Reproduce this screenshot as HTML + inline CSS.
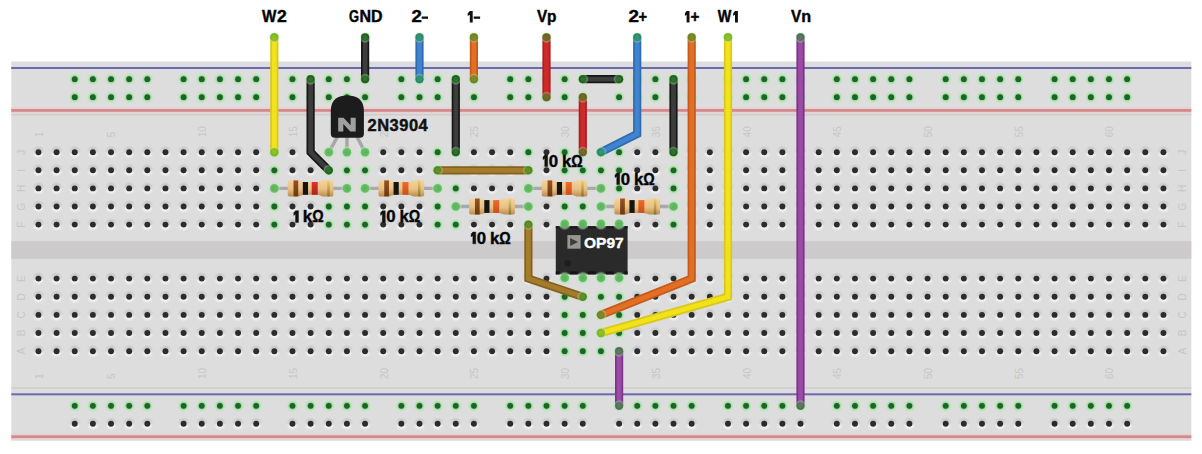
<!DOCTYPE html>
<html><head><meta charset="utf-8"><style>
html,body{margin:0;padding:0;background:#fff;}
svg{display:block;}
</style></head><body>
<svg width="1202" height="454" viewBox="0 0 1202 454">
<defs>
<radialGradient id="halo">
<stop offset="0" stop-color="#ffffff" stop-opacity="1"/>
<stop offset="0.55" stop-color="#f4f4f4" stop-opacity="0.9"/>
<stop offset="1" stop-color="#f4f4f4" stop-opacity="0"/>
</radialGradient>
<linearGradient id="lg" x1="0" y1="0" x2="0" y2="1">
<stop offset="0.1" stop-color="#b9b9b9"/>
<stop offset="0.45" stop-color="#d0d0d0"/>
<stop offset="0.7" stop-color="#fafafa"/>
<stop offset="1" stop-color="#ffffff"/>
</linearGradient>
<radialGradient id="hmg">
<stop offset="0.4" stop-color="#fff" stop-opacity="1"/>
<stop offset="1" stop-color="#fff" stop-opacity="0"/>
</radialGradient>
<mask id="hm" maskContentUnits="userSpaceOnUse" x="-7" y="-7" width="14" height="14" maskUnits="userSpaceOnUse"><circle r="6.6" fill="url(#hmg)"/></mask>
<radialGradient id="shad">
<stop offset="0.5" stop-color="#a8a8a8" stop-opacity="0.8"/>
<stop offset="1" stop-color="#b0b0b0" stop-opacity="0"/>
</radialGradient>
<radialGradient id="whalo">
<stop offset="0.55" stop-color="#b8e4b0" stop-opacity="0"/>
<stop offset="0.72" stop-color="#b8e4b0" stop-opacity="0.45"/>
<stop offset="1" stop-color="#c8eac8" stop-opacity="0"/>
</radialGradient>
<radialGradient id="ghalo">
<stop offset="0" stop-color="#4fa84f" stop-opacity="1"/>
<stop offset="0.4" stop-color="#8ccc8c" stop-opacity="0.95"/>
<stop offset="0.7" stop-color="#bfe6bf" stop-opacity="0.7"/>
<stop offset="1" stop-color="#c8eac8" stop-opacity="0"/>
</radialGradient>
<g id="h"><circle r="6.6" fill="url(#lg)" mask="url(#hm)"/><circle r="2.95" fill="#2c2c2c"/></g>
<g id="g"><circle r="7" fill="url(#ghalo)"/><circle r="2.9" fill="#1b6526"/></g>
<g id="pe"><circle r="6.5" fill="url(#ghalo)" opacity="0.8"/><circle r="4.3" fill="#5cb85c" opacity="0.8"/></g>
<linearGradient id="rb" x1="0" y1="0" x2="0" y2="1">
<stop offset="0" stop-color="#f4d39c"/>
<stop offset="0.55" stop-color="#e9c082"/>
<stop offset="1" stop-color="#b98c52"/>
</linearGradient>
<linearGradient id="bb" x1="0" y1="0" x2="0" y2="1"><stop offset="0" stop-color="#9a5420"/><stop offset="1" stop-color="#6a3812"/></linearGradient>
<linearGradient id="br" x1="0" y1="0" x2="0" y2="1"><stop offset="0" stop-color="#e0342c"/><stop offset="1" stop-color="#a8241e"/></linearGradient>
<linearGradient id="bo" x1="0" y1="0" x2="0" y2="1"><stop offset="0" stop-color="#f06a2c"/><stop offset="1" stop-color="#c8501e"/></linearGradient>
<linearGradient id="bg" x1="0" y1="0" x2="0" y2="1"><stop offset="0" stop-color="#ead27a"/><stop offset="1" stop-color="#8a7228"/></linearGradient>
<g id="resbody"><path d="M-22.9,-6.5 Q-22.9,-8.1 -20.5,-8.1 L-12,-8.1 Q-9,-6.4 -6,-6.4 L6,-6.4 Q9,-6.4 12,-8.1 L20.5,-8.1 Q22.8,-8.1 22.8,-6.5 L22.8,6.5 Q22.8,8.1 20.5,8.1 L12,8.1 Q9,6.4 6,6.4 L-6,6.4 Q-9,6.4 -12,8.1 L-20.5,8.1 Q-22.9,8.1 -22.9,6.5 Z" fill="url(#rb)"/></g>
<g id="resR"><use href="#resbody"/><rect x="-17.1" y="-8" width="4.7" height="16" fill="url(#bb)"/><rect x="-7.8" y="-6.4" width="5.2" height="12.8" fill="#141414"/><rect x="1.1" y="-6.4" width="6.0" height="12.8" fill="url(#br)"/><rect x="16.6" y="-8" width="2.5" height="16" fill="url(#bg)"/></g>
<g id="resO"><use href="#resbody"/><rect x="-17.1" y="-8" width="4.7" height="16" fill="url(#bb)"/><rect x="-7.8" y="-6.4" width="5.2" height="12.8" fill="#141414"/><rect x="1.1" y="-6.4" width="6.0" height="12.8" fill="url(#bo)"/><rect x="16.6" y="-8" width="2.5" height="16" fill="url(#bg)"/></g>
</defs>
<rect x="0" y="0" width="1202" height="454" fill="#ffffff"/>
<rect x="11.3" y="61.5" width="1180.0" height="379.3" fill="#dddddd"/>
<rect x="11.3" y="65.0" width="1180.0" height="6" fill="#dcdce6"/>
<rect x="11.3" y="67.0" width="1180.0" height="2" fill="#6c6ca4"/>
<rect x="11.3" y="107.3" width="1180.0" height="6" fill="#e6d2d2"/>
<rect x="11.3" y="109" width="1180.0" height="2.8" fill="#d48a8c"/>
<rect x="11.3" y="114.0" width="1180.0" height="1.4" fill="#cdcdcd"/>
<rect x="11.3" y="241.1" width="1180.0" height="17.8" fill="#cdcacb"/>
<rect x="11.3" y="387.4" width="1180.0" height="1.4" fill="#cbcbcb"/>
<rect x="11.3" y="391.3" width="1180.0" height="6" fill="#dcdce6"/>
<rect x="11.3" y="393.3" width="1180.0" height="2" fill="#6c6ca4"/>
<rect x="11.3" y="433.6" width="1180.0" height="6" fill="#e6d2d2"/>
<rect x="11.3" y="435.3" width="1180.0" height="2.8" fill="#d48a8c"/>
<g font-family="Liberation Sans, sans-serif" font-size="10" fill="#c6c6c6"><text transform="translate(42.9,137.3) rotate(-90)" text-anchor="start">1</text><text transform="translate(42.9,379.0) rotate(-90)" text-anchor="start">1</text><text transform="translate(115.4,137.3) rotate(-90)" text-anchor="start">5</text><text transform="translate(115.4,379.0) rotate(-90)" text-anchor="start">5</text><text transform="translate(206.2,137.3) rotate(-90)" text-anchor="start">10</text><text transform="translate(206.2,379.0) rotate(-90)" text-anchor="start">10</text><text transform="translate(296.9,137.3) rotate(-90)" text-anchor="start">15</text><text transform="translate(296.9,379.0) rotate(-90)" text-anchor="start">15</text><text transform="translate(387.6,137.3) rotate(-90)" text-anchor="start">20</text><text transform="translate(387.6,379.0) rotate(-90)" text-anchor="start">20</text><text transform="translate(478.3,137.3) rotate(-90)" text-anchor="start">25</text><text transform="translate(478.3,379.0) rotate(-90)" text-anchor="start">25</text><text transform="translate(569.1,137.3) rotate(-90)" text-anchor="start">30</text><text transform="translate(569.1,379.0) rotate(-90)" text-anchor="start">30</text><text transform="translate(659.8,137.3) rotate(-90)" text-anchor="start">35</text><text transform="translate(659.8,379.0) rotate(-90)" text-anchor="start">35</text><text transform="translate(750.5,137.3) rotate(-90)" text-anchor="start">40</text><text transform="translate(750.5,379.0) rotate(-90)" text-anchor="start">40</text><text transform="translate(841.2,137.3) rotate(-90)" text-anchor="start">45</text><text transform="translate(841.2,379.0) rotate(-90)" text-anchor="start">45</text><text transform="translate(932.0,137.3) rotate(-90)" text-anchor="start">50</text><text transform="translate(932.0,379.0) rotate(-90)" text-anchor="start">50</text><text transform="translate(1022.7,137.3) rotate(-90)" text-anchor="start">55</text><text transform="translate(1022.7,379.0) rotate(-90)" text-anchor="start">55</text><text transform="translate(1113.4,137.3) rotate(-90)" text-anchor="start">60</text><text transform="translate(1113.4,379.0) rotate(-90)" text-anchor="start">60</text><text transform="translate(25.1,152.2) rotate(-90)" text-anchor="middle">J</text><text transform="translate(1185.6,152.2) rotate(-90)" text-anchor="middle">J</text><text transform="translate(25.1,170.3) rotate(-90)" text-anchor="middle">I</text><text transform="translate(1185.6,170.3) rotate(-90)" text-anchor="middle">I</text><text transform="translate(25.1,188.4) rotate(-90)" text-anchor="middle">H</text><text transform="translate(1185.6,188.4) rotate(-90)" text-anchor="middle">H</text><text transform="translate(25.1,206.5) rotate(-90)" text-anchor="middle">G</text><text transform="translate(1185.6,206.5) rotate(-90)" text-anchor="middle">G</text><text transform="translate(25.1,224.6) rotate(-90)" text-anchor="middle">F</text><text transform="translate(1185.6,224.6) rotate(-90)" text-anchor="middle">F</text><text transform="translate(25.1,278.6) rotate(-90)" text-anchor="middle">E</text><text transform="translate(1185.6,278.6) rotate(-90)" text-anchor="middle">E</text><text transform="translate(25.1,296.8) rotate(-90)" text-anchor="middle">D</text><text transform="translate(1185.6,296.8) rotate(-90)" text-anchor="middle">D</text><text transform="translate(25.1,314.9) rotate(-90)" text-anchor="middle">C</text><text transform="translate(1185.6,314.9) rotate(-90)" text-anchor="middle">C</text><text transform="translate(25.1,333.0) rotate(-90)" text-anchor="middle">B</text><text transform="translate(1185.6,333.0) rotate(-90)" text-anchor="middle">B</text><text transform="translate(25.1,351.2) rotate(-90)" text-anchor="middle">A</text><text transform="translate(1185.6,351.2) rotate(-90)" text-anchor="middle">A</text></g>
<use href="#h" x="38.45" y="152.20"/>
<use href="#h" x="38.45" y="170.30"/>
<use href="#h" x="38.45" y="188.40"/>
<use href="#h" x="38.45" y="206.50"/>
<use href="#h" x="38.45" y="224.60"/>
<use href="#h" x="38.45" y="278.60"/>
<use href="#h" x="38.45" y="296.80"/>
<use href="#h" x="38.45" y="314.90"/>
<use href="#h" x="38.45" y="333.00"/>
<use href="#h" x="38.45" y="351.20"/>
<use href="#h" x="56.59" y="152.20"/>
<use href="#h" x="56.59" y="170.30"/>
<use href="#h" x="56.59" y="188.40"/>
<use href="#h" x="56.59" y="206.50"/>
<use href="#h" x="56.59" y="224.60"/>
<use href="#h" x="56.59" y="278.60"/>
<use href="#h" x="56.59" y="296.80"/>
<use href="#h" x="56.59" y="314.90"/>
<use href="#h" x="56.59" y="333.00"/>
<use href="#h" x="56.59" y="351.20"/>
<use href="#h" x="74.74" y="152.20"/>
<use href="#h" x="74.74" y="170.30"/>
<use href="#h" x="74.74" y="188.40"/>
<use href="#h" x="74.74" y="206.50"/>
<use href="#h" x="74.74" y="224.60"/>
<use href="#h" x="74.74" y="278.60"/>
<use href="#h" x="74.74" y="296.80"/>
<use href="#h" x="74.74" y="314.90"/>
<use href="#h" x="74.74" y="333.00"/>
<use href="#h" x="74.74" y="351.20"/>
<use href="#h" x="92.89" y="152.20"/>
<use href="#h" x="92.89" y="170.30"/>
<use href="#h" x="92.89" y="188.40"/>
<use href="#h" x="92.89" y="206.50"/>
<use href="#h" x="92.89" y="224.60"/>
<use href="#h" x="92.89" y="278.60"/>
<use href="#h" x="92.89" y="296.80"/>
<use href="#h" x="92.89" y="314.90"/>
<use href="#h" x="92.89" y="333.00"/>
<use href="#h" x="92.89" y="351.20"/>
<use href="#h" x="111.03" y="152.20"/>
<use href="#h" x="111.03" y="170.30"/>
<use href="#h" x="111.03" y="188.40"/>
<use href="#h" x="111.03" y="206.50"/>
<use href="#h" x="111.03" y="224.60"/>
<use href="#h" x="111.03" y="278.60"/>
<use href="#h" x="111.03" y="296.80"/>
<use href="#h" x="111.03" y="314.90"/>
<use href="#h" x="111.03" y="333.00"/>
<use href="#h" x="111.03" y="351.20"/>
<use href="#h" x="129.18" y="152.20"/>
<use href="#h" x="129.18" y="170.30"/>
<use href="#h" x="129.18" y="188.40"/>
<use href="#h" x="129.18" y="206.50"/>
<use href="#h" x="129.18" y="224.60"/>
<use href="#h" x="129.18" y="278.60"/>
<use href="#h" x="129.18" y="296.80"/>
<use href="#h" x="129.18" y="314.90"/>
<use href="#h" x="129.18" y="333.00"/>
<use href="#h" x="129.18" y="351.20"/>
<use href="#h" x="147.32" y="152.20"/>
<use href="#h" x="147.32" y="170.30"/>
<use href="#h" x="147.32" y="188.40"/>
<use href="#h" x="147.32" y="206.50"/>
<use href="#h" x="147.32" y="224.60"/>
<use href="#h" x="147.32" y="278.60"/>
<use href="#h" x="147.32" y="296.80"/>
<use href="#h" x="147.32" y="314.90"/>
<use href="#h" x="147.32" y="333.00"/>
<use href="#h" x="147.32" y="351.20"/>
<use href="#h" x="165.47" y="152.20"/>
<use href="#h" x="165.47" y="170.30"/>
<use href="#h" x="165.47" y="188.40"/>
<use href="#h" x="165.47" y="206.50"/>
<use href="#h" x="165.47" y="224.60"/>
<use href="#h" x="165.47" y="278.60"/>
<use href="#h" x="165.47" y="296.80"/>
<use href="#h" x="165.47" y="314.90"/>
<use href="#h" x="165.47" y="333.00"/>
<use href="#h" x="165.47" y="351.20"/>
<use href="#h" x="183.61" y="152.20"/>
<use href="#h" x="183.61" y="170.30"/>
<use href="#h" x="183.61" y="188.40"/>
<use href="#h" x="183.61" y="206.50"/>
<use href="#h" x="183.61" y="224.60"/>
<use href="#h" x="183.61" y="278.60"/>
<use href="#h" x="183.61" y="296.80"/>
<use href="#h" x="183.61" y="314.90"/>
<use href="#h" x="183.61" y="333.00"/>
<use href="#h" x="183.61" y="351.20"/>
<use href="#h" x="201.75" y="152.20"/>
<use href="#h" x="201.75" y="170.30"/>
<use href="#h" x="201.75" y="188.40"/>
<use href="#h" x="201.75" y="206.50"/>
<use href="#h" x="201.75" y="224.60"/>
<use href="#h" x="201.75" y="278.60"/>
<use href="#h" x="201.75" y="296.80"/>
<use href="#h" x="201.75" y="314.90"/>
<use href="#h" x="201.75" y="333.00"/>
<use href="#h" x="201.75" y="351.20"/>
<use href="#h" x="219.90" y="152.20"/>
<use href="#h" x="219.90" y="170.30"/>
<use href="#h" x="219.90" y="188.40"/>
<use href="#h" x="219.90" y="206.50"/>
<use href="#h" x="219.90" y="224.60"/>
<use href="#h" x="219.90" y="278.60"/>
<use href="#h" x="219.90" y="296.80"/>
<use href="#h" x="219.90" y="314.90"/>
<use href="#h" x="219.90" y="333.00"/>
<use href="#h" x="219.90" y="351.20"/>
<use href="#h" x="238.05" y="152.20"/>
<use href="#h" x="238.05" y="170.30"/>
<use href="#h" x="238.05" y="188.40"/>
<use href="#h" x="238.05" y="206.50"/>
<use href="#h" x="238.05" y="224.60"/>
<use href="#h" x="238.05" y="278.60"/>
<use href="#h" x="238.05" y="296.80"/>
<use href="#h" x="238.05" y="314.90"/>
<use href="#h" x="238.05" y="333.00"/>
<use href="#h" x="238.05" y="351.20"/>
<use href="#h" x="256.19" y="152.20"/>
<use href="#h" x="256.19" y="170.30"/>
<use href="#h" x="256.19" y="188.40"/>
<use href="#h" x="256.19" y="206.50"/>
<use href="#h" x="256.19" y="224.60"/>
<use href="#h" x="256.19" y="278.60"/>
<use href="#h" x="256.19" y="296.80"/>
<use href="#h" x="256.19" y="314.90"/>
<use href="#h" x="256.19" y="333.00"/>
<use href="#h" x="256.19" y="351.20"/>
<use href="#g" x="274.33" y="152.20"/>
<use href="#g" x="274.33" y="170.30"/>
<use href="#g" x="274.33" y="188.40"/>
<use href="#g" x="274.33" y="206.50"/>
<use href="#g" x="274.33" y="224.60"/>
<use href="#h" x="274.33" y="278.60"/>
<use href="#h" x="274.33" y="296.80"/>
<use href="#h" x="274.33" y="314.90"/>
<use href="#h" x="274.33" y="333.00"/>
<use href="#h" x="274.33" y="351.20"/>
<use href="#h" x="292.48" y="152.20"/>
<use href="#h" x="292.48" y="170.30"/>
<use href="#h" x="292.48" y="188.40"/>
<use href="#h" x="292.48" y="206.50"/>
<use href="#h" x="292.48" y="224.60"/>
<use href="#h" x="292.48" y="278.60"/>
<use href="#h" x="292.48" y="296.80"/>
<use href="#h" x="292.48" y="314.90"/>
<use href="#h" x="292.48" y="333.00"/>
<use href="#h" x="292.48" y="351.20"/>
<use href="#h" x="310.62" y="152.20"/>
<use href="#h" x="310.62" y="170.30"/>
<use href="#h" x="310.62" y="188.40"/>
<use href="#h" x="310.62" y="206.50"/>
<use href="#h" x="310.62" y="224.60"/>
<use href="#h" x="310.62" y="278.60"/>
<use href="#h" x="310.62" y="296.80"/>
<use href="#h" x="310.62" y="314.90"/>
<use href="#h" x="310.62" y="333.00"/>
<use href="#h" x="310.62" y="351.20"/>
<use href="#g" x="328.77" y="152.20"/>
<use href="#g" x="328.77" y="170.30"/>
<use href="#g" x="328.77" y="188.40"/>
<use href="#g" x="328.77" y="206.50"/>
<use href="#g" x="328.77" y="224.60"/>
<use href="#h" x="328.77" y="278.60"/>
<use href="#h" x="328.77" y="296.80"/>
<use href="#h" x="328.77" y="314.90"/>
<use href="#h" x="328.77" y="333.00"/>
<use href="#h" x="328.77" y="351.20"/>
<use href="#g" x="346.91" y="152.20"/>
<use href="#g" x="346.91" y="170.30"/>
<use href="#g" x="346.91" y="188.40"/>
<use href="#g" x="346.91" y="206.50"/>
<use href="#g" x="346.91" y="224.60"/>
<use href="#h" x="346.91" y="278.60"/>
<use href="#h" x="346.91" y="296.80"/>
<use href="#h" x="346.91" y="314.90"/>
<use href="#h" x="346.91" y="333.00"/>
<use href="#h" x="346.91" y="351.20"/>
<use href="#g" x="365.06" y="152.20"/>
<use href="#g" x="365.06" y="170.30"/>
<use href="#g" x="365.06" y="188.40"/>
<use href="#g" x="365.06" y="206.50"/>
<use href="#g" x="365.06" y="224.60"/>
<use href="#h" x="365.06" y="278.60"/>
<use href="#h" x="365.06" y="296.80"/>
<use href="#h" x="365.06" y="314.90"/>
<use href="#h" x="365.06" y="333.00"/>
<use href="#h" x="365.06" y="351.20"/>
<use href="#h" x="383.20" y="152.20"/>
<use href="#h" x="383.20" y="170.30"/>
<use href="#h" x="383.20" y="188.40"/>
<use href="#h" x="383.20" y="206.50"/>
<use href="#h" x="383.20" y="224.60"/>
<use href="#h" x="383.20" y="278.60"/>
<use href="#h" x="383.20" y="296.80"/>
<use href="#h" x="383.20" y="314.90"/>
<use href="#h" x="383.20" y="333.00"/>
<use href="#h" x="383.20" y="351.20"/>
<use href="#h" x="401.35" y="152.20"/>
<use href="#h" x="401.35" y="170.30"/>
<use href="#h" x="401.35" y="188.40"/>
<use href="#h" x="401.35" y="206.50"/>
<use href="#h" x="401.35" y="224.60"/>
<use href="#h" x="401.35" y="278.60"/>
<use href="#h" x="401.35" y="296.80"/>
<use href="#h" x="401.35" y="314.90"/>
<use href="#h" x="401.35" y="333.00"/>
<use href="#h" x="401.35" y="351.20"/>
<use href="#h" x="419.50" y="152.20"/>
<use href="#h" x="419.50" y="170.30"/>
<use href="#h" x="419.50" y="188.40"/>
<use href="#h" x="419.50" y="206.50"/>
<use href="#h" x="419.50" y="224.60"/>
<use href="#h" x="419.50" y="278.60"/>
<use href="#h" x="419.50" y="296.80"/>
<use href="#h" x="419.50" y="314.90"/>
<use href="#h" x="419.50" y="333.00"/>
<use href="#h" x="419.50" y="351.20"/>
<use href="#g" x="437.64" y="152.20"/>
<use href="#g" x="437.64" y="170.30"/>
<use href="#g" x="437.64" y="188.40"/>
<use href="#g" x="437.64" y="206.50"/>
<use href="#g" x="437.64" y="224.60"/>
<use href="#h" x="437.64" y="278.60"/>
<use href="#h" x="437.64" y="296.80"/>
<use href="#h" x="437.64" y="314.90"/>
<use href="#h" x="437.64" y="333.00"/>
<use href="#h" x="437.64" y="351.20"/>
<use href="#g" x="455.78" y="152.20"/>
<use href="#g" x="455.78" y="170.30"/>
<use href="#g" x="455.78" y="188.40"/>
<use href="#g" x="455.78" y="206.50"/>
<use href="#g" x="455.78" y="224.60"/>
<use href="#h" x="455.78" y="278.60"/>
<use href="#h" x="455.78" y="296.80"/>
<use href="#h" x="455.78" y="314.90"/>
<use href="#h" x="455.78" y="333.00"/>
<use href="#h" x="455.78" y="351.20"/>
<use href="#h" x="473.93" y="152.20"/>
<use href="#h" x="473.93" y="170.30"/>
<use href="#h" x="473.93" y="188.40"/>
<use href="#h" x="473.93" y="206.50"/>
<use href="#h" x="473.93" y="224.60"/>
<use href="#h" x="473.93" y="278.60"/>
<use href="#h" x="473.93" y="296.80"/>
<use href="#h" x="473.93" y="314.90"/>
<use href="#h" x="473.93" y="333.00"/>
<use href="#h" x="473.93" y="351.20"/>
<use href="#h" x="492.07" y="152.20"/>
<use href="#h" x="492.07" y="170.30"/>
<use href="#h" x="492.07" y="188.40"/>
<use href="#h" x="492.07" y="206.50"/>
<use href="#h" x="492.07" y="224.60"/>
<use href="#h" x="492.07" y="278.60"/>
<use href="#h" x="492.07" y="296.80"/>
<use href="#h" x="492.07" y="314.90"/>
<use href="#h" x="492.07" y="333.00"/>
<use href="#h" x="492.07" y="351.20"/>
<use href="#h" x="510.22" y="152.20"/>
<use href="#h" x="510.22" y="170.30"/>
<use href="#h" x="510.22" y="188.40"/>
<use href="#h" x="510.22" y="206.50"/>
<use href="#h" x="510.22" y="224.60"/>
<use href="#h" x="510.22" y="278.60"/>
<use href="#h" x="510.22" y="296.80"/>
<use href="#h" x="510.22" y="314.90"/>
<use href="#h" x="510.22" y="333.00"/>
<use href="#h" x="510.22" y="351.20"/>
<use href="#g" x="528.37" y="152.20"/>
<use href="#g" x="528.37" y="170.30"/>
<use href="#g" x="528.37" y="188.40"/>
<use href="#g" x="528.37" y="206.50"/>
<use href="#g" x="528.37" y="224.60"/>
<use href="#h" x="528.37" y="278.60"/>
<use href="#h" x="528.37" y="296.80"/>
<use href="#h" x="528.37" y="314.90"/>
<use href="#h" x="528.37" y="333.00"/>
<use href="#h" x="528.37" y="351.20"/>
<use href="#h" x="546.51" y="152.20"/>
<use href="#h" x="546.51" y="170.30"/>
<use href="#h" x="546.51" y="188.40"/>
<use href="#h" x="546.51" y="206.50"/>
<use href="#h" x="546.51" y="224.60"/>
<use href="#h" x="546.51" y="278.60"/>
<use href="#h" x="546.51" y="296.80"/>
<use href="#h" x="546.51" y="314.90"/>
<use href="#h" x="546.51" y="333.00"/>
<use href="#h" x="546.51" y="351.20"/>
<use href="#g" x="564.66" y="152.20"/>
<use href="#g" x="564.66" y="170.30"/>
<use href="#g" x="564.66" y="188.40"/>
<use href="#g" x="564.66" y="206.50"/>
<use href="#g" x="564.66" y="224.60"/>
<use href="#g" x="564.66" y="278.60"/>
<use href="#g" x="564.66" y="296.80"/>
<use href="#g" x="564.66" y="314.90"/>
<use href="#g" x="564.66" y="333.00"/>
<use href="#g" x="564.66" y="351.20"/>
<use href="#g" x="582.80" y="152.20"/>
<use href="#g" x="582.80" y="170.30"/>
<use href="#g" x="582.80" y="188.40"/>
<use href="#g" x="582.80" y="206.50"/>
<use href="#g" x="582.80" y="224.60"/>
<use href="#g" x="582.80" y="278.60"/>
<use href="#g" x="582.80" y="296.80"/>
<use href="#g" x="582.80" y="314.90"/>
<use href="#g" x="582.80" y="333.00"/>
<use href="#g" x="582.80" y="351.20"/>
<use href="#g" x="600.95" y="152.20"/>
<use href="#g" x="600.95" y="170.30"/>
<use href="#g" x="600.95" y="188.40"/>
<use href="#g" x="600.95" y="206.50"/>
<use href="#g" x="600.95" y="224.60"/>
<use href="#g" x="600.95" y="278.60"/>
<use href="#g" x="600.95" y="296.80"/>
<use href="#g" x="600.95" y="314.90"/>
<use href="#g" x="600.95" y="333.00"/>
<use href="#g" x="600.95" y="351.20"/>
<use href="#g" x="619.09" y="152.20"/>
<use href="#g" x="619.09" y="170.30"/>
<use href="#g" x="619.09" y="188.40"/>
<use href="#g" x="619.09" y="206.50"/>
<use href="#g" x="619.09" y="224.60"/>
<use href="#g" x="619.09" y="278.60"/>
<use href="#g" x="619.09" y="296.80"/>
<use href="#g" x="619.09" y="314.90"/>
<use href="#g" x="619.09" y="333.00"/>
<use href="#g" x="619.09" y="351.20"/>
<use href="#h" x="637.24" y="152.20"/>
<use href="#h" x="637.24" y="170.30"/>
<use href="#h" x="637.24" y="188.40"/>
<use href="#h" x="637.24" y="206.50"/>
<use href="#h" x="637.24" y="224.60"/>
<use href="#h" x="637.24" y="278.60"/>
<use href="#h" x="637.24" y="296.80"/>
<use href="#h" x="637.24" y="314.90"/>
<use href="#h" x="637.24" y="333.00"/>
<use href="#h" x="637.24" y="351.20"/>
<use href="#h" x="655.38" y="152.20"/>
<use href="#h" x="655.38" y="170.30"/>
<use href="#h" x="655.38" y="188.40"/>
<use href="#h" x="655.38" y="206.50"/>
<use href="#h" x="655.38" y="224.60"/>
<use href="#h" x="655.38" y="278.60"/>
<use href="#h" x="655.38" y="296.80"/>
<use href="#h" x="655.38" y="314.90"/>
<use href="#h" x="655.38" y="333.00"/>
<use href="#h" x="655.38" y="351.20"/>
<use href="#g" x="673.52" y="152.20"/>
<use href="#g" x="673.52" y="170.30"/>
<use href="#g" x="673.52" y="188.40"/>
<use href="#g" x="673.52" y="206.50"/>
<use href="#g" x="673.52" y="224.60"/>
<use href="#h" x="673.52" y="278.60"/>
<use href="#h" x="673.52" y="296.80"/>
<use href="#h" x="673.52" y="314.90"/>
<use href="#h" x="673.52" y="333.00"/>
<use href="#h" x="673.52" y="351.20"/>
<use href="#h" x="691.67" y="152.20"/>
<use href="#h" x="691.67" y="170.30"/>
<use href="#h" x="691.67" y="188.40"/>
<use href="#h" x="691.67" y="206.50"/>
<use href="#h" x="691.67" y="224.60"/>
<use href="#h" x="691.67" y="278.60"/>
<use href="#h" x="691.67" y="296.80"/>
<use href="#h" x="691.67" y="314.90"/>
<use href="#h" x="691.67" y="333.00"/>
<use href="#h" x="691.67" y="351.20"/>
<use href="#h" x="709.82" y="152.20"/>
<use href="#h" x="709.82" y="170.30"/>
<use href="#h" x="709.82" y="188.40"/>
<use href="#h" x="709.82" y="206.50"/>
<use href="#h" x="709.82" y="224.60"/>
<use href="#h" x="709.82" y="278.60"/>
<use href="#h" x="709.82" y="296.80"/>
<use href="#h" x="709.82" y="314.90"/>
<use href="#h" x="709.82" y="333.00"/>
<use href="#h" x="709.82" y="351.20"/>
<use href="#h" x="727.96" y="152.20"/>
<use href="#h" x="727.96" y="170.30"/>
<use href="#h" x="727.96" y="188.40"/>
<use href="#h" x="727.96" y="206.50"/>
<use href="#h" x="727.96" y="224.60"/>
<use href="#h" x="727.96" y="278.60"/>
<use href="#h" x="727.96" y="296.80"/>
<use href="#h" x="727.96" y="314.90"/>
<use href="#h" x="727.96" y="333.00"/>
<use href="#h" x="727.96" y="351.20"/>
<use href="#h" x="746.11" y="152.20"/>
<use href="#h" x="746.11" y="170.30"/>
<use href="#h" x="746.11" y="188.40"/>
<use href="#h" x="746.11" y="206.50"/>
<use href="#h" x="746.11" y="224.60"/>
<use href="#h" x="746.11" y="278.60"/>
<use href="#h" x="746.11" y="296.80"/>
<use href="#h" x="746.11" y="314.90"/>
<use href="#h" x="746.11" y="333.00"/>
<use href="#h" x="746.11" y="351.20"/>
<use href="#h" x="764.25" y="152.20"/>
<use href="#h" x="764.25" y="170.30"/>
<use href="#h" x="764.25" y="188.40"/>
<use href="#h" x="764.25" y="206.50"/>
<use href="#h" x="764.25" y="224.60"/>
<use href="#h" x="764.25" y="278.60"/>
<use href="#h" x="764.25" y="296.80"/>
<use href="#h" x="764.25" y="314.90"/>
<use href="#h" x="764.25" y="333.00"/>
<use href="#h" x="764.25" y="351.20"/>
<use href="#h" x="782.39" y="152.20"/>
<use href="#h" x="782.39" y="170.30"/>
<use href="#h" x="782.39" y="188.40"/>
<use href="#h" x="782.39" y="206.50"/>
<use href="#h" x="782.39" y="224.60"/>
<use href="#h" x="782.39" y="278.60"/>
<use href="#h" x="782.39" y="296.80"/>
<use href="#h" x="782.39" y="314.90"/>
<use href="#h" x="782.39" y="333.00"/>
<use href="#h" x="782.39" y="351.20"/>
<use href="#h" x="800.54" y="152.20"/>
<use href="#h" x="800.54" y="170.30"/>
<use href="#h" x="800.54" y="188.40"/>
<use href="#h" x="800.54" y="206.50"/>
<use href="#h" x="800.54" y="224.60"/>
<use href="#h" x="800.54" y="278.60"/>
<use href="#h" x="800.54" y="296.80"/>
<use href="#h" x="800.54" y="314.90"/>
<use href="#h" x="800.54" y="333.00"/>
<use href="#h" x="800.54" y="351.20"/>
<use href="#h" x="818.69" y="152.20"/>
<use href="#h" x="818.69" y="170.30"/>
<use href="#h" x="818.69" y="188.40"/>
<use href="#h" x="818.69" y="206.50"/>
<use href="#h" x="818.69" y="224.60"/>
<use href="#h" x="818.69" y="278.60"/>
<use href="#h" x="818.69" y="296.80"/>
<use href="#h" x="818.69" y="314.90"/>
<use href="#h" x="818.69" y="333.00"/>
<use href="#h" x="818.69" y="351.20"/>
<use href="#h" x="836.83" y="152.20"/>
<use href="#h" x="836.83" y="170.30"/>
<use href="#h" x="836.83" y="188.40"/>
<use href="#h" x="836.83" y="206.50"/>
<use href="#h" x="836.83" y="224.60"/>
<use href="#h" x="836.83" y="278.60"/>
<use href="#h" x="836.83" y="296.80"/>
<use href="#h" x="836.83" y="314.90"/>
<use href="#h" x="836.83" y="333.00"/>
<use href="#h" x="836.83" y="351.20"/>
<use href="#h" x="854.98" y="152.20"/>
<use href="#h" x="854.98" y="170.30"/>
<use href="#h" x="854.98" y="188.40"/>
<use href="#h" x="854.98" y="206.50"/>
<use href="#h" x="854.98" y="224.60"/>
<use href="#h" x="854.98" y="278.60"/>
<use href="#h" x="854.98" y="296.80"/>
<use href="#h" x="854.98" y="314.90"/>
<use href="#h" x="854.98" y="333.00"/>
<use href="#h" x="854.98" y="351.20"/>
<use href="#h" x="873.12" y="152.20"/>
<use href="#h" x="873.12" y="170.30"/>
<use href="#h" x="873.12" y="188.40"/>
<use href="#h" x="873.12" y="206.50"/>
<use href="#h" x="873.12" y="224.60"/>
<use href="#h" x="873.12" y="278.60"/>
<use href="#h" x="873.12" y="296.80"/>
<use href="#h" x="873.12" y="314.90"/>
<use href="#h" x="873.12" y="333.00"/>
<use href="#h" x="873.12" y="351.20"/>
<use href="#h" x="891.26" y="152.20"/>
<use href="#h" x="891.26" y="170.30"/>
<use href="#h" x="891.26" y="188.40"/>
<use href="#h" x="891.26" y="206.50"/>
<use href="#h" x="891.26" y="224.60"/>
<use href="#h" x="891.26" y="278.60"/>
<use href="#h" x="891.26" y="296.80"/>
<use href="#h" x="891.26" y="314.90"/>
<use href="#h" x="891.26" y="333.00"/>
<use href="#h" x="891.26" y="351.20"/>
<use href="#h" x="909.41" y="152.20"/>
<use href="#h" x="909.41" y="170.30"/>
<use href="#h" x="909.41" y="188.40"/>
<use href="#h" x="909.41" y="206.50"/>
<use href="#h" x="909.41" y="224.60"/>
<use href="#h" x="909.41" y="278.60"/>
<use href="#h" x="909.41" y="296.80"/>
<use href="#h" x="909.41" y="314.90"/>
<use href="#h" x="909.41" y="333.00"/>
<use href="#h" x="909.41" y="351.20"/>
<use href="#h" x="927.56" y="152.20"/>
<use href="#h" x="927.56" y="170.30"/>
<use href="#h" x="927.56" y="188.40"/>
<use href="#h" x="927.56" y="206.50"/>
<use href="#h" x="927.56" y="224.60"/>
<use href="#h" x="927.56" y="278.60"/>
<use href="#h" x="927.56" y="296.80"/>
<use href="#h" x="927.56" y="314.90"/>
<use href="#h" x="927.56" y="333.00"/>
<use href="#h" x="927.56" y="351.20"/>
<use href="#h" x="945.70" y="152.20"/>
<use href="#h" x="945.70" y="170.30"/>
<use href="#h" x="945.70" y="188.40"/>
<use href="#h" x="945.70" y="206.50"/>
<use href="#h" x="945.70" y="224.60"/>
<use href="#h" x="945.70" y="278.60"/>
<use href="#h" x="945.70" y="296.80"/>
<use href="#h" x="945.70" y="314.90"/>
<use href="#h" x="945.70" y="333.00"/>
<use href="#h" x="945.70" y="351.20"/>
<use href="#h" x="963.85" y="152.20"/>
<use href="#h" x="963.85" y="170.30"/>
<use href="#h" x="963.85" y="188.40"/>
<use href="#h" x="963.85" y="206.50"/>
<use href="#h" x="963.85" y="224.60"/>
<use href="#h" x="963.85" y="278.60"/>
<use href="#h" x="963.85" y="296.80"/>
<use href="#h" x="963.85" y="314.90"/>
<use href="#h" x="963.85" y="333.00"/>
<use href="#h" x="963.85" y="351.20"/>
<use href="#h" x="981.99" y="152.20"/>
<use href="#h" x="981.99" y="170.30"/>
<use href="#h" x="981.99" y="188.40"/>
<use href="#h" x="981.99" y="206.50"/>
<use href="#h" x="981.99" y="224.60"/>
<use href="#h" x="981.99" y="278.60"/>
<use href="#h" x="981.99" y="296.80"/>
<use href="#h" x="981.99" y="314.90"/>
<use href="#h" x="981.99" y="333.00"/>
<use href="#h" x="981.99" y="351.20"/>
<use href="#h" x="1000.13" y="152.20"/>
<use href="#h" x="1000.13" y="170.30"/>
<use href="#h" x="1000.13" y="188.40"/>
<use href="#h" x="1000.13" y="206.50"/>
<use href="#h" x="1000.13" y="224.60"/>
<use href="#h" x="1000.13" y="278.60"/>
<use href="#h" x="1000.13" y="296.80"/>
<use href="#h" x="1000.13" y="314.90"/>
<use href="#h" x="1000.13" y="333.00"/>
<use href="#h" x="1000.13" y="351.20"/>
<use href="#h" x="1018.28" y="152.20"/>
<use href="#h" x="1018.28" y="170.30"/>
<use href="#h" x="1018.28" y="188.40"/>
<use href="#h" x="1018.28" y="206.50"/>
<use href="#h" x="1018.28" y="224.60"/>
<use href="#h" x="1018.28" y="278.60"/>
<use href="#h" x="1018.28" y="296.80"/>
<use href="#h" x="1018.28" y="314.90"/>
<use href="#h" x="1018.28" y="333.00"/>
<use href="#h" x="1018.28" y="351.20"/>
<use href="#h" x="1036.42" y="152.20"/>
<use href="#h" x="1036.42" y="170.30"/>
<use href="#h" x="1036.42" y="188.40"/>
<use href="#h" x="1036.42" y="206.50"/>
<use href="#h" x="1036.42" y="224.60"/>
<use href="#h" x="1036.42" y="278.60"/>
<use href="#h" x="1036.42" y="296.80"/>
<use href="#h" x="1036.42" y="314.90"/>
<use href="#h" x="1036.42" y="333.00"/>
<use href="#h" x="1036.42" y="351.20"/>
<use href="#h" x="1054.57" y="152.20"/>
<use href="#h" x="1054.57" y="170.30"/>
<use href="#h" x="1054.57" y="188.40"/>
<use href="#h" x="1054.57" y="206.50"/>
<use href="#h" x="1054.57" y="224.60"/>
<use href="#h" x="1054.57" y="278.60"/>
<use href="#h" x="1054.57" y="296.80"/>
<use href="#h" x="1054.57" y="314.90"/>
<use href="#h" x="1054.57" y="333.00"/>
<use href="#h" x="1054.57" y="351.20"/>
<use href="#h" x="1072.71" y="152.20"/>
<use href="#h" x="1072.71" y="170.30"/>
<use href="#h" x="1072.71" y="188.40"/>
<use href="#h" x="1072.71" y="206.50"/>
<use href="#h" x="1072.71" y="224.60"/>
<use href="#h" x="1072.71" y="278.60"/>
<use href="#h" x="1072.71" y="296.80"/>
<use href="#h" x="1072.71" y="314.90"/>
<use href="#h" x="1072.71" y="333.00"/>
<use href="#h" x="1072.71" y="351.20"/>
<use href="#h" x="1090.86" y="152.20"/>
<use href="#h" x="1090.86" y="170.30"/>
<use href="#h" x="1090.86" y="188.40"/>
<use href="#h" x="1090.86" y="206.50"/>
<use href="#h" x="1090.86" y="224.60"/>
<use href="#h" x="1090.86" y="278.60"/>
<use href="#h" x="1090.86" y="296.80"/>
<use href="#h" x="1090.86" y="314.90"/>
<use href="#h" x="1090.86" y="333.00"/>
<use href="#h" x="1090.86" y="351.20"/>
<use href="#h" x="1109.01" y="152.20"/>
<use href="#h" x="1109.01" y="170.30"/>
<use href="#h" x="1109.01" y="188.40"/>
<use href="#h" x="1109.01" y="206.50"/>
<use href="#h" x="1109.01" y="224.60"/>
<use href="#h" x="1109.01" y="278.60"/>
<use href="#h" x="1109.01" y="296.80"/>
<use href="#h" x="1109.01" y="314.90"/>
<use href="#h" x="1109.01" y="333.00"/>
<use href="#h" x="1109.01" y="351.20"/>
<use href="#h" x="1127.15" y="152.20"/>
<use href="#h" x="1127.15" y="170.30"/>
<use href="#h" x="1127.15" y="188.40"/>
<use href="#h" x="1127.15" y="206.50"/>
<use href="#h" x="1127.15" y="224.60"/>
<use href="#h" x="1127.15" y="278.60"/>
<use href="#h" x="1127.15" y="296.80"/>
<use href="#h" x="1127.15" y="314.90"/>
<use href="#h" x="1127.15" y="333.00"/>
<use href="#h" x="1127.15" y="351.20"/>
<use href="#h" x="1145.30" y="152.20"/>
<use href="#h" x="1145.30" y="170.30"/>
<use href="#h" x="1145.30" y="188.40"/>
<use href="#h" x="1145.30" y="206.50"/>
<use href="#h" x="1145.30" y="224.60"/>
<use href="#h" x="1145.30" y="278.60"/>
<use href="#h" x="1145.30" y="296.80"/>
<use href="#h" x="1145.30" y="314.90"/>
<use href="#h" x="1145.30" y="333.00"/>
<use href="#h" x="1145.30" y="351.20"/>
<use href="#h" x="1163.44" y="152.20"/>
<use href="#h" x="1163.44" y="170.30"/>
<use href="#h" x="1163.44" y="188.40"/>
<use href="#h" x="1163.44" y="206.50"/>
<use href="#h" x="1163.44" y="224.60"/>
<use href="#h" x="1163.44" y="278.60"/>
<use href="#h" x="1163.44" y="296.80"/>
<use href="#h" x="1163.44" y="314.90"/>
<use href="#h" x="1163.44" y="333.00"/>
<use href="#h" x="1163.44" y="351.20"/>
<use href="#g" x="74.74" y="79.20"/>
<use href="#g" x="74.74" y="97.20"/>
<use href="#g" x="74.74" y="405.80"/>
<use href="#h" x="74.74" y="423.80"/>
<use href="#g" x="92.89" y="79.20"/>
<use href="#g" x="92.89" y="97.20"/>
<use href="#g" x="92.89" y="405.80"/>
<use href="#h" x="92.89" y="423.80"/>
<use href="#g" x="111.03" y="79.20"/>
<use href="#g" x="111.03" y="97.20"/>
<use href="#g" x="111.03" y="405.80"/>
<use href="#h" x="111.03" y="423.80"/>
<use href="#g" x="129.18" y="79.20"/>
<use href="#g" x="129.18" y="97.20"/>
<use href="#g" x="129.18" y="405.80"/>
<use href="#h" x="129.18" y="423.80"/>
<use href="#g" x="147.32" y="79.20"/>
<use href="#g" x="147.32" y="97.20"/>
<use href="#g" x="147.32" y="405.80"/>
<use href="#h" x="147.32" y="423.80"/>
<use href="#g" x="183.61" y="79.20"/>
<use href="#g" x="183.61" y="97.20"/>
<use href="#g" x="183.61" y="405.80"/>
<use href="#h" x="183.61" y="423.80"/>
<use href="#g" x="201.75" y="79.20"/>
<use href="#g" x="201.75" y="97.20"/>
<use href="#g" x="201.75" y="405.80"/>
<use href="#h" x="201.75" y="423.80"/>
<use href="#g" x="219.90" y="79.20"/>
<use href="#g" x="219.90" y="97.20"/>
<use href="#g" x="219.90" y="405.80"/>
<use href="#h" x="219.90" y="423.80"/>
<use href="#g" x="238.05" y="79.20"/>
<use href="#g" x="238.05" y="97.20"/>
<use href="#g" x="238.05" y="405.80"/>
<use href="#h" x="238.05" y="423.80"/>
<use href="#g" x="256.19" y="79.20"/>
<use href="#g" x="256.19" y="97.20"/>
<use href="#g" x="256.19" y="405.80"/>
<use href="#h" x="256.19" y="423.80"/>
<use href="#g" x="292.48" y="79.20"/>
<use href="#g" x="292.48" y="97.20"/>
<use href="#g" x="292.48" y="405.80"/>
<use href="#h" x="292.48" y="423.80"/>
<use href="#g" x="310.62" y="79.20"/>
<use href="#g" x="310.62" y="97.20"/>
<use href="#g" x="310.62" y="405.80"/>
<use href="#h" x="310.62" y="423.80"/>
<use href="#g" x="328.77" y="79.20"/>
<use href="#g" x="328.77" y="97.20"/>
<use href="#g" x="328.77" y="405.80"/>
<use href="#h" x="328.77" y="423.80"/>
<use href="#g" x="346.91" y="79.20"/>
<use href="#g" x="346.91" y="97.20"/>
<use href="#g" x="346.91" y="405.80"/>
<use href="#h" x="346.91" y="423.80"/>
<use href="#g" x="365.06" y="79.20"/>
<use href="#g" x="365.06" y="97.20"/>
<use href="#g" x="365.06" y="405.80"/>
<use href="#h" x="365.06" y="423.80"/>
<use href="#g" x="401.35" y="79.20"/>
<use href="#g" x="401.35" y="97.20"/>
<use href="#g" x="401.35" y="405.80"/>
<use href="#h" x="401.35" y="423.80"/>
<use href="#g" x="419.50" y="79.20"/>
<use href="#g" x="419.50" y="97.20"/>
<use href="#g" x="419.50" y="405.80"/>
<use href="#h" x="419.50" y="423.80"/>
<use href="#g" x="437.64" y="79.20"/>
<use href="#g" x="437.64" y="97.20"/>
<use href="#g" x="437.64" y="405.80"/>
<use href="#h" x="437.64" y="423.80"/>
<use href="#g" x="455.78" y="79.20"/>
<use href="#g" x="455.78" y="97.20"/>
<use href="#g" x="455.78" y="405.80"/>
<use href="#h" x="455.78" y="423.80"/>
<use href="#g" x="473.93" y="79.20"/>
<use href="#g" x="473.93" y="97.20"/>
<use href="#g" x="473.93" y="405.80"/>
<use href="#h" x="473.93" y="423.80"/>
<use href="#g" x="510.22" y="79.20"/>
<use href="#g" x="510.22" y="97.20"/>
<use href="#g" x="510.22" y="405.80"/>
<use href="#h" x="510.22" y="423.80"/>
<use href="#g" x="528.37" y="79.20"/>
<use href="#g" x="528.37" y="97.20"/>
<use href="#g" x="528.37" y="405.80"/>
<use href="#h" x="528.37" y="423.80"/>
<use href="#g" x="546.51" y="79.20"/>
<use href="#g" x="546.51" y="97.20"/>
<use href="#g" x="546.51" y="405.80"/>
<use href="#h" x="546.51" y="423.80"/>
<use href="#g" x="564.66" y="79.20"/>
<use href="#g" x="564.66" y="97.20"/>
<use href="#g" x="564.66" y="405.80"/>
<use href="#h" x="564.66" y="423.80"/>
<use href="#g" x="582.80" y="79.20"/>
<use href="#g" x="582.80" y="97.20"/>
<use href="#g" x="582.80" y="405.80"/>
<use href="#h" x="582.80" y="423.80"/>
<use href="#g" x="619.09" y="79.20"/>
<use href="#g" x="619.09" y="97.20"/>
<use href="#g" x="619.09" y="405.80"/>
<use href="#h" x="619.09" y="423.80"/>
<use href="#g" x="637.24" y="79.20"/>
<use href="#g" x="637.24" y="97.20"/>
<use href="#g" x="637.24" y="405.80"/>
<use href="#h" x="637.24" y="423.80"/>
<use href="#g" x="655.38" y="79.20"/>
<use href="#g" x="655.38" y="97.20"/>
<use href="#g" x="655.38" y="405.80"/>
<use href="#h" x="655.38" y="423.80"/>
<use href="#g" x="673.52" y="79.20"/>
<use href="#g" x="673.52" y="97.20"/>
<use href="#g" x="673.52" y="405.80"/>
<use href="#h" x="673.52" y="423.80"/>
<use href="#g" x="691.67" y="79.20"/>
<use href="#g" x="691.67" y="97.20"/>
<use href="#g" x="691.67" y="405.80"/>
<use href="#h" x="691.67" y="423.80"/>
<use href="#g" x="727.96" y="79.20"/>
<use href="#g" x="727.96" y="97.20"/>
<use href="#g" x="727.96" y="405.80"/>
<use href="#h" x="727.96" y="423.80"/>
<use href="#g" x="746.11" y="79.20"/>
<use href="#g" x="746.11" y="97.20"/>
<use href="#g" x="746.11" y="405.80"/>
<use href="#h" x="746.11" y="423.80"/>
<use href="#g" x="764.25" y="79.20"/>
<use href="#g" x="764.25" y="97.20"/>
<use href="#g" x="764.25" y="405.80"/>
<use href="#h" x="764.25" y="423.80"/>
<use href="#g" x="782.39" y="79.20"/>
<use href="#g" x="782.39" y="97.20"/>
<use href="#g" x="782.39" y="405.80"/>
<use href="#h" x="782.39" y="423.80"/>
<use href="#g" x="800.54" y="79.20"/>
<use href="#g" x="800.54" y="97.20"/>
<use href="#g" x="800.54" y="405.80"/>
<use href="#h" x="800.54" y="423.80"/>
<use href="#g" x="836.83" y="79.20"/>
<use href="#g" x="836.83" y="97.20"/>
<use href="#g" x="836.83" y="405.80"/>
<use href="#h" x="836.83" y="423.80"/>
<use href="#g" x="854.98" y="79.20"/>
<use href="#g" x="854.98" y="97.20"/>
<use href="#g" x="854.98" y="405.80"/>
<use href="#h" x="854.98" y="423.80"/>
<use href="#g" x="873.12" y="79.20"/>
<use href="#g" x="873.12" y="97.20"/>
<use href="#g" x="873.12" y="405.80"/>
<use href="#h" x="873.12" y="423.80"/>
<use href="#g" x="891.26" y="79.20"/>
<use href="#g" x="891.26" y="97.20"/>
<use href="#g" x="891.26" y="405.80"/>
<use href="#h" x="891.26" y="423.80"/>
<use href="#g" x="909.41" y="79.20"/>
<use href="#g" x="909.41" y="97.20"/>
<use href="#g" x="909.41" y="405.80"/>
<use href="#h" x="909.41" y="423.80"/>
<use href="#g" x="945.70" y="79.20"/>
<use href="#g" x="945.70" y="97.20"/>
<use href="#g" x="945.70" y="405.80"/>
<use href="#h" x="945.70" y="423.80"/>
<use href="#g" x="963.85" y="79.20"/>
<use href="#g" x="963.85" y="97.20"/>
<use href="#g" x="963.85" y="405.80"/>
<use href="#h" x="963.85" y="423.80"/>
<use href="#g" x="981.99" y="79.20"/>
<use href="#g" x="981.99" y="97.20"/>
<use href="#g" x="981.99" y="405.80"/>
<use href="#h" x="981.99" y="423.80"/>
<use href="#g" x="1000.13" y="79.20"/>
<use href="#g" x="1000.13" y="97.20"/>
<use href="#g" x="1000.13" y="405.80"/>
<use href="#h" x="1000.13" y="423.80"/>
<use href="#g" x="1018.28" y="79.20"/>
<use href="#g" x="1018.28" y="97.20"/>
<use href="#g" x="1018.28" y="405.80"/>
<use href="#h" x="1018.28" y="423.80"/>
<use href="#g" x="1054.57" y="79.20"/>
<use href="#g" x="1054.57" y="97.20"/>
<use href="#g" x="1054.57" y="405.80"/>
<use href="#h" x="1054.57" y="423.80"/>
<use href="#g" x="1072.71" y="79.20"/>
<use href="#g" x="1072.71" y="97.20"/>
<use href="#g" x="1072.71" y="405.80"/>
<use href="#h" x="1072.71" y="423.80"/>
<use href="#g" x="1090.86" y="79.20"/>
<use href="#g" x="1090.86" y="97.20"/>
<use href="#g" x="1090.86" y="405.80"/>
<use href="#h" x="1090.86" y="423.80"/>
<use href="#g" x="1109.01" y="79.20"/>
<use href="#g" x="1109.01" y="97.20"/>
<use href="#g" x="1109.01" y="405.80"/>
<use href="#h" x="1109.01" y="423.80"/>
<use href="#g" x="1127.15" y="79.20"/>
<use href="#g" x="1127.15" y="97.20"/>
<use href="#g" x="1127.15" y="405.80"/>
<use href="#h" x="1127.15" y="423.80"/>
<line x1="274.3" y1="188.4" x2="346.9" y2="188.4" stroke="#a9a9a9" stroke-width="3.4"/><use href="#resR" x="310.62" y="188.40"/><use href="#pe" x="274.33" y="188.40"/><use href="#pe" x="346.91" y="188.40"/>
<line x1="365.1" y1="188.4" x2="437.6" y2="188.4" stroke="#a9a9a9" stroke-width="3.4"/><use href="#resO" x="401.35" y="188.40"/><use href="#pe" x="365.06" y="188.40"/><use href="#pe" x="437.64" y="188.40"/>
<line x1="455.8" y1="206.5" x2="528.4" y2="206.5" stroke="#a9a9a9" stroke-width="3.4"/><use href="#resO" x="492.07" y="206.50"/><use href="#pe" x="455.78" y="206.50"/><use href="#pe" x="528.37" y="206.50"/>
<line x1="528.4" y1="188.4" x2="600.9" y2="188.4" stroke="#a9a9a9" stroke-width="3.4"/><use href="#resO" x="564.65" y="188.40"/><use href="#pe" x="528.37" y="188.40"/><use href="#pe" x="600.95" y="188.40"/>
<line x1="600.9" y1="206.5" x2="673.5" y2="206.5" stroke="#a9a9a9" stroke-width="3.4"/><use href="#resO" x="637.24" y="206.50"/><use href="#pe" x="600.95" y="206.50"/><use href="#pe" x="673.52" y="206.50"/>
<g><line x1="338" y1="136" x2="328.8" y2="152.2" stroke="#a6a6a6" stroke-width="3.4"/><line x1="347" y1="136" x2="346.9" y2="152.2" stroke="#a6a6a6" stroke-width="3.4"/><line x1="356.5" y1="136" x2="365.1" y2="152.2" stroke="#a6a6a6" stroke-width="3.4"/><use href="#pe" x="328.77" y="152.20"/><use href="#pe" x="346.91" y="152.20"/><use href="#pe" x="365.06" y="152.20"/><path d="M330.8,111 C330.8,99 338,95.4 347.3,95.4 C356.6,95.4 363.9,99 363.9,111 L363.9,133.7 Q363.9,137.7 359.9,137.7 L334.8,137.7 Q330.8,137.7 330.8,133.7 Z" fill="#1c1c1c"/><path d="M338.2,131.6 L338.2,117.7 L343.6,117.7 L350.6,125.2 L350.6,117.7 L355.7,117.7 L355.7,131.6 L350.3,131.6 L343.3,124.1 L343.3,131.6 Z" fill="#a0a0a0"/></g>
<rect x="555.8" y="226.2" width="71.8" height="48.2" fill="#2a2a2a"/><rect x="555.8" y="226.2" width="3.7" height="2.2" fill="#1a1a1a"/><rect x="555.8" y="271.4" width="3.7" height="3.0" fill="#141414"/><rect x="569.9" y="226.2" width="7.7" height="2.2" fill="#1a1a1a"/><rect x="569.9" y="271.4" width="7.7" height="3.0" fill="#141414"/><rect x="588.0" y="226.2" width="7.7" height="2.2" fill="#1a1a1a"/><rect x="588.0" y="271.4" width="7.7" height="3.0" fill="#141414"/><rect x="606.1" y="226.2" width="7.7" height="2.2" fill="#1a1a1a"/><rect x="606.1" y="271.4" width="7.7" height="3.0" fill="#141414"/><rect x="624.3" y="226.2" width="3.3" height="2.2" fill="#1a1a1a"/><rect x="624.3" y="271.4" width="3.3" height="3.0" fill="#141414"/><use href="#pe" x="564.66" y="223.80"/><use href="#pe" x="564.66" y="277.80"/><use href="#pe" x="582.80" y="223.80"/><use href="#pe" x="582.80" y="277.80"/><use href="#pe" x="600.95" y="223.80"/><use href="#pe" x="600.95" y="277.80"/><use href="#pe" x="619.09" y="223.80"/><use href="#pe" x="619.09" y="277.80"/><circle cx="567.6" cy="263.3" r="3.2" fill="#1d1d1d"/><rect x="567.4" y="235.1" width="13.2" height="13.6" fill="#979790"/><path d="M570.2,237.9 L578.0,241.9 L570.2,245.9 Z" fill="#3c3c3a"/><text x="584.0" y="247.7" font-family="Liberation Sans, sans-serif" font-weight="bold" font-size="15.5" fill="#ffffff" stroke="#ffffff" stroke-width="0.35">OP97</text>
<path d="M274.3,37.3 L274.3,152.2" fill="none" stroke="#d9c81c" stroke-width="8.2" stroke-linecap="round" stroke-linejoin="miter"/><path d="M274.3,37.3 L274.3,152.2" fill="none" stroke="#f2e21a" stroke-width="4.799999999999999" stroke-linecap="round" stroke-linejoin="miter"/><circle cx="274.3" cy="37.3" r="6" fill="url(#whalo)"/><circle cx="274.3" cy="37.3" r="4.2" fill="#28a028" fill-opacity="0.5"/><circle cx="274.3" cy="152.2" r="6" fill="url(#whalo)"/><circle cx="274.3" cy="152.2" r="4.2" fill="#28a028" fill-opacity="0.5"/>
<path d="M365.1,37.3 L365.1,79.2" fill="none" stroke="#161616" stroke-width="8.2" stroke-linecap="round" stroke-linejoin="miter"/><path d="M365.1,37.3 L365.1,79.2" fill="none" stroke="#3c3c3c" stroke-width="4.799999999999999" stroke-linecap="round" stroke-linejoin="miter"/><circle cx="365.1" cy="37.3" r="6" fill="url(#whalo)"/><circle cx="365.1" cy="37.3" r="4.2" fill="#28a028" fill-opacity="0.5"/><circle cx="365.1" cy="79.2" r="6" fill="url(#whalo)"/><circle cx="365.1" cy="79.2" r="4.2" fill="#28a028" fill-opacity="0.5"/>
<path d="M419.5,37.3 L419.5,79.2" fill="none" stroke="#2f6aae" stroke-width="8.2" stroke-linecap="round" stroke-linejoin="miter"/><path d="M419.5,37.3 L419.5,79.2" fill="none" stroke="#3f84cf" stroke-width="4.799999999999999" stroke-linecap="round" stroke-linejoin="miter"/><circle cx="419.5" cy="37.3" r="6" fill="url(#whalo)"/><circle cx="419.5" cy="37.3" r="4.2" fill="#28a028" fill-opacity="0.5"/><circle cx="419.5" cy="79.2" r="6" fill="url(#whalo)"/><circle cx="419.5" cy="79.2" r="4.2" fill="#28a028" fill-opacity="0.5"/>
<path d="M473.9,37.3 L473.9,79.2" fill="none" stroke="#c45a1c" stroke-width="8.2" stroke-linecap="round" stroke-linejoin="miter"/><path d="M473.9,37.3 L473.9,79.2" fill="none" stroke="#e36f22" stroke-width="4.799999999999999" stroke-linecap="round" stroke-linejoin="miter"/><circle cx="473.9" cy="37.3" r="6" fill="url(#whalo)"/><circle cx="473.9" cy="37.3" r="4.2" fill="#28a028" fill-opacity="0.5"/><circle cx="473.9" cy="79.2" r="6" fill="url(#whalo)"/><circle cx="473.9" cy="79.2" r="4.2" fill="#28a028" fill-opacity="0.5"/>
<path d="M546.5,37.3 L546.5,97.2" fill="none" stroke="#a81f24" stroke-width="8.2" stroke-linecap="round" stroke-linejoin="miter"/><path d="M546.5,37.3 L546.5,97.2" fill="none" stroke="#cf2a2a" stroke-width="4.799999999999999" stroke-linecap="round" stroke-linejoin="miter"/><circle cx="546.5" cy="37.3" r="6" fill="url(#whalo)"/><circle cx="546.5" cy="37.3" r="4.2" fill="#28a028" fill-opacity="0.5"/><circle cx="546.5" cy="97.2" r="6" fill="url(#whalo)"/><circle cx="546.5" cy="97.2" r="4.2" fill="#28a028" fill-opacity="0.5"/>
<path d="M310.6,79.2 L310.6,152.2 L328.8,170.3" fill="none" stroke="#161616" stroke-width="8.2" stroke-linecap="round" stroke-linejoin="miter"/><path d="M310.6,79.2 L310.6,152.2 L328.8,170.3" fill="none" stroke="#3c3c3c" stroke-width="4.799999999999999" stroke-linecap="round" stroke-linejoin="miter"/><circle cx="310.6" cy="79.2" r="6" fill="url(#whalo)"/><circle cx="310.6" cy="79.2" r="4.2" fill="#28a028" fill-opacity="0.5"/><circle cx="328.8" cy="170.3" r="6" fill="url(#whalo)"/><circle cx="328.8" cy="170.3" r="4.2" fill="#28a028" fill-opacity="0.5"/>
<path d="M455.8,79.2 L455.8,152.2" fill="none" stroke="#161616" stroke-width="8.2" stroke-linecap="round" stroke-linejoin="miter"/><path d="M455.8,79.2 L455.8,152.2" fill="none" stroke="#3c3c3c" stroke-width="4.799999999999999" stroke-linecap="round" stroke-linejoin="miter"/><circle cx="455.8" cy="79.2" r="6" fill="url(#whalo)"/><circle cx="455.8" cy="79.2" r="4.2" fill="#28a028" fill-opacity="0.5"/><circle cx="455.8" cy="152.2" r="6" fill="url(#whalo)"/><circle cx="455.8" cy="152.2" r="4.2" fill="#28a028" fill-opacity="0.5"/>
<path d="M582.8,79.2 L619.1,79.2" fill="none" stroke="#161616" stroke-width="8.2" stroke-linecap="round" stroke-linejoin="miter"/><path d="M582.8,79.2 L619.1,79.2" fill="none" stroke="#3c3c3c" stroke-width="4.799999999999999" stroke-linecap="round" stroke-linejoin="miter"/><circle cx="582.8" cy="79.2" r="6" fill="url(#whalo)"/><circle cx="582.8" cy="79.2" r="4.2" fill="#28a028" fill-opacity="0.5"/><circle cx="619.1" cy="79.2" r="6" fill="url(#whalo)"/><circle cx="619.1" cy="79.2" r="4.2" fill="#28a028" fill-opacity="0.5"/>
<path d="M673.5,79.2 L673.5,152.2" fill="none" stroke="#161616" stroke-width="8.2" stroke-linecap="round" stroke-linejoin="miter"/><path d="M673.5,79.2 L673.5,152.2" fill="none" stroke="#3c3c3c" stroke-width="4.799999999999999" stroke-linecap="round" stroke-linejoin="miter"/><circle cx="673.5" cy="79.2" r="6" fill="url(#whalo)"/><circle cx="673.5" cy="79.2" r="4.2" fill="#28a028" fill-opacity="0.5"/><circle cx="673.5" cy="152.2" r="6" fill="url(#whalo)"/><circle cx="673.5" cy="152.2" r="4.2" fill="#28a028" fill-opacity="0.5"/>
<path d="M582.8,97.2 L582.8,152.2" fill="none" stroke="#a81f24" stroke-width="8.2" stroke-linecap="round" stroke-linejoin="miter"/><path d="M582.8,97.2 L582.8,152.2" fill="none" stroke="#cf2a2a" stroke-width="4.799999999999999" stroke-linecap="round" stroke-linejoin="miter"/><circle cx="582.8" cy="97.2" r="6" fill="url(#whalo)"/><circle cx="582.8" cy="97.2" r="4.2" fill="#28a028" fill-opacity="0.5"/><circle cx="582.8" cy="152.2" r="6" fill="url(#whalo)"/><circle cx="582.8" cy="152.2" r="4.2" fill="#28a028" fill-opacity="0.5"/>
<path d="M437.6,170.3 L528.4,170.3" fill="none" stroke="#85611f" stroke-width="8.2" stroke-linecap="round" stroke-linejoin="miter"/><path d="M437.6,170.3 L528.4,170.3" fill="none" stroke="#a57b2c" stroke-width="4.799999999999999" stroke-linecap="round" stroke-linejoin="miter"/><circle cx="437.6" cy="170.3" r="6" fill="url(#whalo)"/><circle cx="437.6" cy="170.3" r="4.2" fill="#28a028" fill-opacity="0.5"/><circle cx="528.4" cy="170.3" r="6" fill="url(#whalo)"/><circle cx="528.4" cy="170.3" r="4.2" fill="#28a028" fill-opacity="0.5"/>
<path d="M528.4,224.6 L528.4,278.6 L582.8,296.8" fill="none" stroke="#85611f" stroke-width="8.2" stroke-linecap="round" stroke-linejoin="miter"/><path d="M528.4,224.6 L528.4,278.6 L582.8,296.8" fill="none" stroke="#a57b2c" stroke-width="4.799999999999999" stroke-linecap="round" stroke-linejoin="miter"/><circle cx="528.4" cy="224.6" r="6" fill="url(#whalo)"/><circle cx="528.4" cy="224.6" r="4.2" fill="#28a028" fill-opacity="0.5"/><circle cx="582.8" cy="296.8" r="6" fill="url(#whalo)"/><circle cx="582.8" cy="296.8" r="4.2" fill="#28a028" fill-opacity="0.5"/>
<path d="M637.2,37.3 L637.2,134.0 L600.9,152.2" fill="none" stroke="#2f6aae" stroke-width="8.2" stroke-linecap="round" stroke-linejoin="miter"/><path d="M637.2,37.3 L637.2,134.0 L600.9,152.2" fill="none" stroke="#3f84cf" stroke-width="4.799999999999999" stroke-linecap="round" stroke-linejoin="miter"/><circle cx="637.2" cy="37.3" r="6" fill="url(#whalo)"/><circle cx="637.2" cy="37.3" r="4.2" fill="#28a028" fill-opacity="0.5"/><circle cx="600.9" cy="152.2" r="6" fill="url(#whalo)"/><circle cx="600.9" cy="152.2" r="4.2" fill="#28a028" fill-opacity="0.5"/>
<path d="M691.7,37.3 L691.7,278.6 L600.9,314.9" fill="none" stroke="#c45a1c" stroke-width="8.2" stroke-linecap="round" stroke-linejoin="miter"/><path d="M691.7,37.3 L691.7,278.6 L600.9,314.9" fill="none" stroke="#e36f22" stroke-width="4.799999999999999" stroke-linecap="round" stroke-linejoin="miter"/><circle cx="691.7" cy="37.3" r="6" fill="url(#whalo)"/><circle cx="691.7" cy="37.3" r="4.2" fill="#28a028" fill-opacity="0.5"/><circle cx="600.9" cy="314.9" r="6" fill="url(#whalo)"/><circle cx="600.9" cy="314.9" r="4.2" fill="#28a028" fill-opacity="0.5"/>
<path d="M728.0,37.3 L728.0,296.8 L600.9,333.0" fill="none" stroke="#d9c81c" stroke-width="8.2" stroke-linecap="round" stroke-linejoin="miter"/><path d="M728.0,37.3 L728.0,296.8 L600.9,333.0" fill="none" stroke="#f2e21a" stroke-width="4.799999999999999" stroke-linecap="round" stroke-linejoin="miter"/><circle cx="728.0" cy="37.3" r="6" fill="url(#whalo)"/><circle cx="728.0" cy="37.3" r="4.2" fill="#28a028" fill-opacity="0.5"/><circle cx="600.9" cy="333.0" r="6" fill="url(#whalo)"/><circle cx="600.9" cy="333.0" r="4.2" fill="#28a028" fill-opacity="0.5"/>
<path d="M619.1,351.2 L619.1,405.8" fill="none" stroke="#7b3588" stroke-width="8.2" stroke-linecap="round" stroke-linejoin="miter"/><path d="M619.1,351.2 L619.1,405.8" fill="none" stroke="#9b4aa6" stroke-width="4.799999999999999" stroke-linecap="round" stroke-linejoin="miter"/><circle cx="619.1" cy="351.2" r="6" fill="url(#whalo)"/><circle cx="619.1" cy="351.2" r="4.2" fill="#28a028" fill-opacity="0.5"/><circle cx="619.1" cy="405.8" r="6" fill="url(#whalo)"/><circle cx="619.1" cy="405.8" r="4.2" fill="#28a028" fill-opacity="0.5"/>
<path d="M800.5,37.3 L800.5,405.8" fill="none" stroke="#7b3588" stroke-width="8.2" stroke-linecap="round" stroke-linejoin="miter"/><path d="M800.5,37.3 L800.5,405.8" fill="none" stroke="#9b4aa6" stroke-width="4.799999999999999" stroke-linecap="round" stroke-linejoin="miter"/><circle cx="800.5" cy="37.3" r="6" fill="url(#whalo)"/><circle cx="800.5" cy="37.3" r="4.2" fill="#28a028" fill-opacity="0.5"/><circle cx="800.5" cy="405.8" r="6" fill="url(#whalo)"/><circle cx="800.5" cy="405.8" r="4.2" fill="#28a028" fill-opacity="0.5"/>
<g font-family="Liberation Sans, sans-serif" font-weight="bold" stroke="#111111" stroke-width="0.45"><text transform="translate(261.90,22.40) scale(0.952,1)" x="0" y="0" font-size="16.0">W</text><text transform="translate(277.05,22.40) scale(1.097,1)" x="0" y="0" font-size="16.0">2</text><text transform="translate(348.90,22.40) scale(0.809,1)" x="0" y="0" font-size="16.0">G</text><text transform="translate(359.48,22.40) scale(1.002,1)" x="0" y="0" font-size="16.0">N</text><text transform="translate(371.09,22.40) scale(0.995,1)" x="0" y="0" font-size="16.0">D</text><text transform="translate(411.42,22.40) scale(1.161,1)" x="0" y="0" font-size="16.0">2</text><rect x="421.70" y="16.50" width="6.30" height="2.3" fill="#111111" stroke="none"/><path d="M469.80,11.10 L472.70,11.10 L472.70,22.60 L469.80,22.60 L469.80,14.70 L467.70,15.90 L467.70,13.30 Z" fill="#111111" stroke="none"/><rect x="473.70" y="16.50" width="6.40" height="2.3" fill="#111111" stroke="none"/><text transform="translate(537.09,22.40) scale(0.954,1)" x="0" y="0" font-size="16.0">V</text><text transform="translate(547.12,22.40) scale(0.963,1)" x="0" y="0" font-size="16.0">p</text><text transform="translate(628.51,22.40) scale(1.174,1)" x="0" y="0" font-size="16.0">2</text><text transform="translate(638.43,22.40) scale(0.911,1)" x="0" y="0" font-size="16.0">+</text><path d="M686.60,11.10 L689.50,11.10 L689.50,22.60 L686.60,22.60 L686.60,14.70 L684.90,15.90 L684.90,13.30 Z" fill="#111111" stroke="none"/><text transform="translate(690.41,22.40) scale(0.948,1)" x="0" y="0" font-size="16.0">+</text><text transform="translate(717.80,22.40) scale(0.899,1)" x="0" y="0" font-size="16.0">W</text><path d="M735.00,11.10 L737.90,11.10 L737.90,22.60 L735.00,22.60 L735.00,14.70 L733.20,15.90 L733.20,13.30 Z" fill="#111111" stroke="none"/><text transform="translate(790.88,22.40) scale(0.963,1)" x="0" y="0" font-size="16.0">V</text><text transform="translate(801.17,22.40) scale(1.010,1)" x="0" y="0" font-size="16.0">n</text><text x="397.9" y="130.7" font-size="16.5" letter-spacing="0.5" text-anchor="middle" fill="#111111">2N3904</text><path d="M295.55,210.70 L298.45,210.70 L298.45,222.40 L295.55,222.40 L295.55,214.30 L293.80,215.30 L293.80,212.70 Z" fill="#111111"/><text x="302.73" y="222.40" font-size="16.8">k</text><text transform="translate(313.00,222.40) scale(0.85,1)" x="-0.76" y="0" font-size="16.8">&#937;</text><path d="M382.35,210.70 L385.25,210.70 L385.25,222.40 L382.35,222.40 L382.35,214.30 L380.60,215.30 L380.60,212.70 Z" fill="#111111"/><text x="386.24" y="222.40" font-size="16.8">0</text><text x="399.53" y="222.40" font-size="16.8">k</text><text transform="translate(409.50,222.40) scale(0.85,1)" x="-0.76" y="0" font-size="16.8">&#937;</text><path d="M472.85,232.10 L475.75,232.10 L475.75,243.80 L472.85,243.80 L472.85,235.70 L471.10,236.70 L471.10,234.10 Z" fill="#111111"/><text x="476.74" y="243.80" font-size="16.8">0</text><text x="490.03" y="243.80" font-size="16.8">k</text><text transform="translate(500.00,243.80) scale(0.85,1)" x="-0.76" y="0" font-size="16.8">&#937;</text><path d="M544.75,154.90 L547.65,154.90 L547.65,166.60 L544.75,166.60 L544.75,158.50 L543.00,159.50 L543.00,156.90 Z" fill="#111111"/><text x="548.64" y="166.60" font-size="16.8">0</text><text x="561.93" y="166.60" font-size="16.8">k</text><text transform="translate(571.90,166.60) scale(0.85,1)" x="-0.76" y="0" font-size="16.8">&#937;</text><path d="M616.75,172.90 L619.65,172.90 L619.65,184.60 L616.75,184.60 L616.75,176.50 L615.00,177.50 L615.00,174.90 Z" fill="#111111"/><text x="620.64" y="184.60" font-size="16.8">0</text><text x="633.93" y="184.60" font-size="16.8">k</text><text transform="translate(643.90,184.60) scale(0.85,1)" x="-0.76" y="0" font-size="16.8">&#937;</text></g>
</svg>
</body></html>
